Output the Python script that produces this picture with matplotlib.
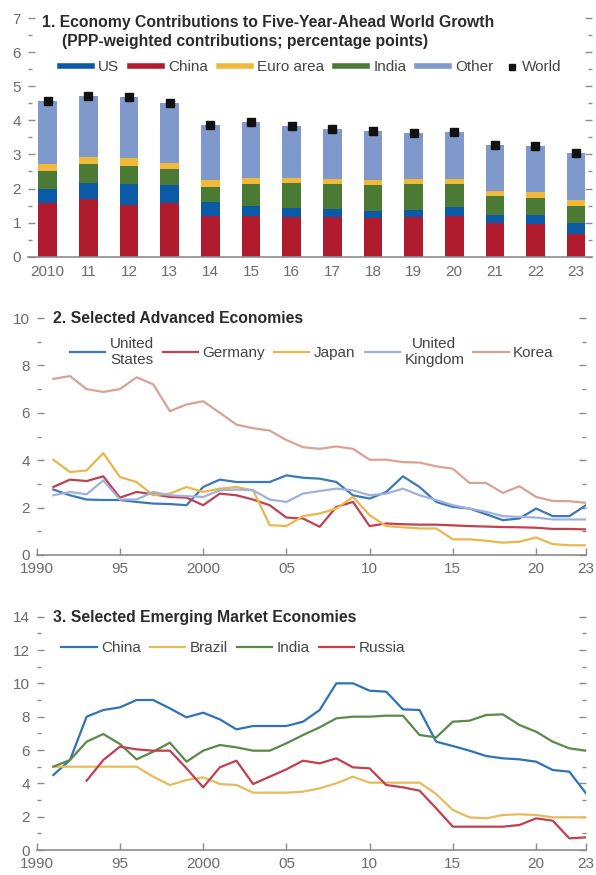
import numpy as np
import matplotlib
matplotlib.use("Agg")
import matplotlib.pyplot as plt
from matplotlib.lines import Line2D

plt.rcParams['font.family'] = ['Liberation Sans', 'DejaVu Sans']

# ---- Panel 1: contributions to five-year-ahead world growth ----
bar_labels = ['2010', '11', '12', '13', '14', '15', '16', '17', '18', '19', '20', '21', '22', '23']
china_c = [1.58, 1.70, 1.53, 1.58, 1.20, 1.18, 1.15, 1.15, 1.13, 1.15, 1.20, 0.99, 0.97, 0.66]
us_c = [0.42, 0.47, 0.59, 0.51, 0.40, 0.30, 0.29, 0.25, 0.20, 0.23, 0.25, 0.24, 0.24, 0.33]
india_c = [0.50, 0.54, 0.54, 0.47, 0.45, 0.66, 0.71, 0.72, 0.76, 0.74, 0.69, 0.55, 0.52, 0.49]
euro_c = [0.23, 0.22, 0.22, 0.20, 0.19, 0.18, 0.17, 0.17, 0.15, 0.15, 0.13, 0.14, 0.16, 0.18]
other_c = [1.85, 1.79, 1.79, 1.76, 1.63, 1.64, 1.52, 1.46, 1.45, 1.36, 1.39, 1.35, 1.36, 1.38]
world_c = [4.58, 4.72, 4.67, 4.52, 3.87, 3.96, 3.84, 3.75, 3.69, 3.63, 3.66, 3.27, 3.25, 3.04]

# ---- Panel 2: selected advanced economies (1991-2023) ----
years = list(range(1991, 2024))
us = [2.76, 2.52, 2.34, 2.32, 2.32, 2.24, 2.17, 2.15, 2.10,
      2.87, 3.18, 3.08, 3.08, 3.08, 3.36, 3.26, 3.22, 3.08, 2.52,
      2.38, 2.66, 3.32, 2.87, 2.24, 2.03, 1.96, 1.72, 1.47, 1.54, 1.96, 1.64, 1.64, 2.10]
germany = [2.87, 3.18, 3.12, 3.32, 2.42, 2.66, 2.56, 2.45, 2.42,
           2.10, 2.59, 2.52, 2.34, 2.10, 1.58, 1.54, 1.19, 2.03, 2.24,
           1.22, 1.33, 1.30, 1.28, 1.28, 1.25, 1.22, 1.20, 1.18, 1.17, 1.15, 1.10, 1.10, 1.08]
japan = [4.02, 3.50, 3.57, 4.30, 3.29, 3.08, 2.52, 2.59, 2.87,
         2.66, 2.80, 2.87, 2.73, 1.26, 1.22, 1.64, 1.75, 1.96, 2.45,
         1.68, 1.22, 1.17, 1.12, 1.12, 0.66, 0.66, 0.60, 0.52, 0.56, 0.74, 0.46, 0.41, 0.41]
uk = [2.52, 2.66, 2.56, 3.15, 2.34, 2.34, 2.66, 2.52, 2.48,
      2.45, 2.73, 2.76, 2.73, 2.34, 2.24, 2.59, 2.70, 2.80, 2.73,
      2.52, 2.59, 2.80, 2.52, 2.32, 2.10, 1.96, 1.82, 1.64, 1.61, 1.58, 1.50, 1.50, 1.50]
korea = [7.43, 7.55, 7.00, 6.88, 7.00, 7.50, 7.20, 6.07, 6.35,
         6.49, 6.00, 5.50, 5.35, 5.25, 4.85, 4.55, 4.48, 4.58, 4.48,
         4.02, 4.02, 3.92, 3.90, 3.74, 3.64, 3.04, 3.04, 2.62, 2.90, 2.45, 2.28, 2.27, 2.20]

# ---- Panel 3: selected emerging market economies (1991-2023) ----
china = [4.5, 5.4, 8.0, 8.4, 8.56, 9.0, 9.0, 8.5, 7.96,
         8.24, 7.84, 7.24, 7.44, 7.44, 7.44, 7.7, 8.4, 10.0, 10.0,
         9.56, 9.5, 8.44, 8.4, 6.5, 6.24, 5.96, 5.64, 5.5, 5.44, 5.3, 4.8, 4.7, 3.4]
brazil = [5.0, 5.0, 5.0, 5.0, 5.0, 5.0, 4.4, 3.9, 4.2,
          4.36, 3.96, 3.9, 3.44, 3.44, 3.44, 3.5, 3.7, 4.0, 4.4,
          4.04, 4.04, 4.04, 4.04, 3.36, 2.4, 1.96, 1.9, 2.1, 2.14, 2.1, 1.96, 1.96, 1.96]
india = [5.0, 5.4, 6.5, 6.96, 6.36, 5.44, 5.9, 6.44, 5.3,
         5.96, 6.3, 6.16, 5.96, 5.96, 6.4, 6.9, 7.36, 7.9, 8.0,
         8.0, 8.06, 8.06, 6.9, 6.76, 7.7, 7.76, 8.1, 8.14, 7.5, 7.1, 6.5, 6.1, 5.96]
russia = [np.nan, np.nan, 4.16, 5.4, 6.2, 6.04, 5.96, 5.96, 4.9,
          3.76, 4.96, 5.36, 3.96, 4.4, 4.84, 5.36, 5.2, 5.5, 4.96,
          4.9, 3.9, 3.76, 3.56, 2.5, 1.4, 1.4, 1.4, 1.4, 1.5, 1.9, 1.76, 0.7, 0.76]

line_ticks = [1990, 1995, 2000, 2005, 2010, 2015, 2020, 2023]
line_tick_labels = ['1990', '95', '2000', '05', '10', '15', '20', '23']

GRAY = '#6b6b6b'
TXT = '#2b2b2b'
LEGTXT = '#444444'
TICK_FS = 11
LEG_FS = 11
W, H = 596, 875


def frame(ax, ymax, major, minor):
    for s in ['top', 'left', 'right']:
        ax.spines[s].set_visible(False)
    ax.spines['bottom'].set_color('#8c8c8c')
    ax.spines['bottom'].set_linewidth(1.2)
    ax.set_ylim(0, ymax)
    ax.set_yticks(np.arange(0, ymax + 0.01, major))
    ax.set_yticks(np.arange(0, ymax + 0.01, minor), minor=True)
    ax.yaxis.set_major_formatter(matplotlib.ticker.FormatStrFormatter('%d'))
    ax.tick_params(axis='y', which='both', direction='in', left=True, right=True,
                   colors='#8c8c8c', labelcolor=GRAY, labelsize=TICK_FS, pad=5)
    ax.tick_params(axis='y', which='major', length=5, width=1)
    ax.tick_params(axis='y', which='minor', length=3, width=1)


def box(left, top, right, bottom):
    return [left / W, 1 - bottom / H, (right - left) / W, (bottom - top) / H]


fig = plt.figure(figsize=(5.96, 8.75), dpi=100)

# Panel 1
ax1 = fig.add_axes(box(28, 18, 592, 256.7))
x = np.arange(len(bar_labels))
bw = 0.46
stack = [(china_c, '#b01c2e', 'China'), (us_c, '#0b5aa8', 'US'),
         (india_c, '#4a7a34', 'India'), (euro_c, '#f2b83a', 'Euro area'),
         (other_c, '#8099cc', 'Other')]
bottom = np.zeros(len(x))
for vals, col, lab in stack:
    ax1.bar(x, vals, bw, bottom=bottom, color=col, linewidth=0)
    bottom += np.array(vals)
ax1.plot(x, world_c, 's', color='#111111', markersize=6.2, zorder=5)
ax1.set_xlim(-0.485, 13.39)
ax1.set_xticks(x)
ax1.set_xticklabels(bar_labels)
ax1.tick_params(axis='x', length=0, labelcolor=GRAY, labelsize=TICK_FS, pad=6)
frame(ax1, 7, 1, 0.5)
ax1.text(0.025, 0.983, '1. Economy Contributions to Five-Year-Ahead World Growth',
         transform=ax1.transAxes, fontsize=11.3, fontweight='bold', color=TXT, va='center')
ax1.text(0.06, 0.9, '(PPP-weighted contributions; percentage points)',
         transform=ax1.transAxes, fontsize=11.3, fontweight='bold', color=TXT, va='center')
handles1 = [Line2D([], [], color='#0b5aa8', lw=4), Line2D([], [], color='#b01c2e', lw=4),
            Line2D([], [], color='#f2b83a', lw=4), Line2D([], [], color='#4a7a34', lw=4),
            Line2D([], [], color='#8099cc', lw=4)]
leg = ax1.legend(handles1, ['US', 'China', 'Euro area', 'India', 'Other'],
                 ncol=5, frameon=False, loc='center left', bbox_to_anchor=(0.057, 0.795),
                 fontsize=LEG_FS, handlelength=2.1, handletextpad=0.4, columnspacing=0.7,
                 borderpad=0, borderaxespad=0)
for t in leg.get_texts():
    t.set_color(LEGTXT)
# World entry: short marker key right after the other legend items
ax1.plot([0.858], [0.795], 's', color='#111111', markersize=5, transform=ax1.transAxes,
         clip_on=False)
ax1.text(0.876, 0.795, 'World', transform=ax1.transAxes, fontsize=LEG_FS, color=LEGTXT,
         va='center')


def line_panel(rect, ymax, series, title, legend_x, legend_y):
    ax = fig.add_axes(rect)
    for vals, col, lab in series:
        ax.plot(years, vals, color=col, lw=1.6, label=lab)
    ax.set_xlim(1990, 2023)
    ax.set_xticks(line_ticks)
    ax.set_xticklabels(line_tick_labels)
    ax.tick_params(axis='x', direction='in', length=5, width=1, colors='#8c8c8c',
                   labelcolor=GRAY, labelsize=TICK_FS, pad=5)
    frame(ax, ymax, 2, 1)
    ax.text(0.03, 0.997, title, transform=ax.transAxes, fontsize=11.3, fontweight='bold',
            color=TXT, va='center')
    lg = ax.legend(ncol=len(series), frameon=False, loc='center left',
                   bbox_to_anchor=(legend_x, legend_y), fontsize=LEG_FS, handlelength=2.3,
                   handletextpad=0.3, columnspacing=0.6, borderpad=0, borderaxespad=0)
    for t in lg.get_texts():
        t.set_color(LEGTXT)
        t.set_multialignment('center')
    return ax


adv = [(us, '#3b78b8', 'United\nStates'), (germany, '#c0414f', 'Germany'),
       (japan, '#e9b74c', 'Japan'), (uk, '#9fb2dc', 'United\nKingdom'),
       (korea, '#d8a294', 'Korea')]
line_panel(box(36.7, 318, 586, 555), 10, adv, '2. Selected Advanced Economies', 0.06, 0.857)

emg = [(china, '#2f73b5', 'China'), (brazil, '#e8ba5c', 'Brazil'),
       (india, '#5a8a48', 'India'), (russia, '#c0404f', 'Russia')]
line_panel(box(36.7, 616.7, 586, 850), 14, emg, '3. Selected Emerging Market Economies',
           0.045, 0.866)

fig.savefig('out.png', dpi=100)
